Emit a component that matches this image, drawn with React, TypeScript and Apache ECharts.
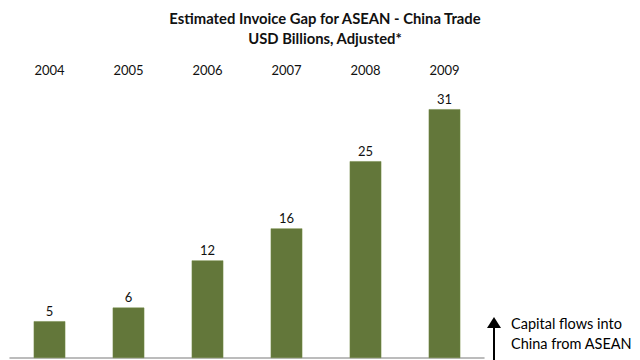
import React, { useEffect, useRef } from "react";
import * as echarts from "echarts";

const years = ["2004", "2005", "2006", "2007", "2008", "2009"];
const invoiceGap = [4.6, 6.3, 12.2, 16.2, 24.6, 31.1];
const titleLines = ["Estimated Invoice Gap for ASEAN - China Trade", "USD Billions, Adjusted*"];
const noteLines = ["Capital flows into", "China from ASEAN"];

export default function App() {
  const ref = useRef<HTMLDivElement>(null);
  useEffect(() => {
    if (!ref.current) return;
    const chart = echarts.init(ref.current, null, { renderer: "svg" });
    const font = "Lato, 'Open Sans', sans-serif";
    chart.setOption({
      animation: false,
      backgroundColor: "#ffffff",
      textStyle: { fontFamily: font },
      title: {
        text: titleLines.join("\n"),
        left: 320,
        textAlign: "center",
        top: 3,
        textStyle: { fontFamily: font, fontSize: 14.8, fontWeight: "bold", color: "#111", lineHeight: 20 },
      },
      grid: { left: 10, right: 156, top: 76, bottom: 2, containLabel: false },
      xAxis: [
        {
          type: "category",
          data: years,
          position: "top",
          axisLine: { show: false },
          axisTick: { show: false },
          axisLabel: { margin: 0, fontSize: 13, color: "#111", fontFamily: font },
        },
        {
          type: "category",
          data: years,
          position: "bottom",
          axisLine: { show: true, lineStyle: { color: "#a6a6a6", width: 1.5 } },
          axisTick: { show: false },
          axisLabel: { show: false },
        },
      ],
      yAxis: { type: "value", min: 0, max: 35.25, show: false, splitLine: { show: false } },
      series: [
        {
          type: "bar",
          data: invoiceGap,
          xAxisIndex: 0,
          barWidth: "40%",
          itemStyle: { color: "#63773a", borderColor: "#728a45", borderWidth: 0.5 },
          label: {
            show: true,
            position: "top",
            distance: 4,
            fontSize: 13,
            color: "#111",
            fontFamily: font,
            formatter: (p: any) => String(Math.round(p.value)),
          },
        },
      ],
      graphic: [
        { type: "line", shape: { x1: 494, y1: 362, x2: 494, y2: 324 }, style: { stroke: "#000", lineWidth: 2 } },
        { type: "polygon", shape: { points: [[487, 328], [494, 317], [501, 328]] }, style: { fill: "#000" } },
        {
          type: "text",
          left: 511,
          top: 313,
          style: { text: noteLines.join("\n"), fontSize: 14.5, lineHeight: 20, fill: "#000", fontFamily: font },
        },
      ],
    });
    return () => chart.dispose();
  }, []);
  return <div ref={ref} style={{ position: "fixed", left: 0, top: 0, width: 640, height: 360 }} />;
}
